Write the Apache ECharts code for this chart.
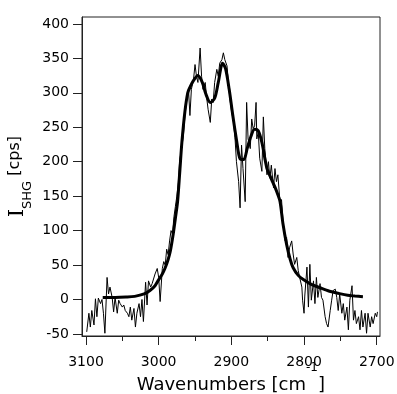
<!DOCTYPE html>
<html>
<head>
<meta charset="utf-8">
<script src="https://cdn.jsdelivr.net/npm/echarts@6/dist/echarts.min.js"></script>
<style>html,body{margin:0;padding:0;background:#fff;}#c{width:397px;height:394px;}</style>
</head>
<body>
<div id="c"></div>
<script>
// measured spectrum (noisy)
const dataWn = [3099,3096,3094,3092,3089,3087,3085,3083,3080,3078,3076,3074,3071,3069,3067,3064,3062,3060,3057,3055,3053,3050,3048,3046,3043,3041,3039,3037,3034,3032,3030,3027,3025,3023,3021,3018,3016,3014,3011,3009,3007,3005,3002,3000,2998,2995,2993,2991,2989,2987,2985,2983,2981,2979,2977,2975,2973,2971,2969,2966,2964,2962,2959,2957,2955,2952,2950,2948,2946,2943,2941,2939,2936,2934,2932,2929,2927,2925,2923,2920,2918,2916,2913,2911,2909,2906,2904,2902,2900,2897,2895,2893,2890,2888,2886,2884,2881,2879,2877,2874,2872,2870,2868,2866,2865,2863,2861,2858,2856,2854,2851,2849,2847,2845,2842,2840,2838,2836,2833,2831,2829,2826,2824,2822,2820,2817,2815,2813,2810,2808,2806,2803,2802,2800,2799,2796,2794,2792,2790,2787,2785,2783,2781,2778,2776,2774,2771,2769,2767,2764,2762,2760,2757,2755,2753,2751,2748,2746,2744,2741,2739,2737,2734,2732,2730,2728,2725,2723,2721,2719,2716,2714,2712,2709,2707,2705,2702,2700,2699];
const dataVal = [-47,-20,-40,-16,-37,1,-25,2,-6,0,-20,-49,32,8,18,3,-18,3,-20,-1,-6,-11,-8,-16,-20,-25,-11,-30,-13,-40,-20,-6,-25,0,-32,25,-8,27,18,23,25,37,45,32,-3,45,55,50,73,65,85,100,95,120,135,150,170,203,215,238,265,285,305,267,305,320,341,324,315,365,324,305,315,293,276,257,291,286,315,334,324,343,348,358,348,339,315,291,275,257,235,200,171,133,224,190,142,286,233,219,262,248,252,286,233,243,205,186,265,219,181,200,176,195,162,190,171,181,140,145,115,85,90,61,75,85,66,51,61,42,32,18,-1,-20,5,47,-11,51,-1,27,-6,32,3,23,3,-1,-25,-35,-40,-16,-1,13,15,3,-16,8,-20,-6,-30,-11,-44,-1,20,-30,-16,-35,-25,-44,-16,-40,-20,-49,-20,-40,-25,-35,-20,-25,-18];
// fit curve
const fitWn = [3077,3060,3045,3033,3020,3012,3005,3001,2995,2991,2987,2984,2980,2977,2974,2971,2968,2964,2960,2957,2952,2946,2940,2935,2929,2923,2918,2912,2908,2903,2898,2893,2888,2883,2878,2873,2868,2863,2858,2851,2845,2840,2836,2833,2829,2824,2819,2815,2808,2801,2790,2778,2765,2755,2740,2730,2719];
const fitVal = [3,3,3.5,4.5,8,13,20,27,37,46,58,70,95,118,142,185,229,272,300,308,318,325,315,298,286,292,315,343,335,305,267,232,204,203,220,237,247,245,228,190,175,163,152,142,110,80,58,46,35,29,22,17,12,9.5,6,5,4];
// tick labels
const xMajor = [2700,2800,2900,3000,3100];
const xMinor = [2750,2850,2950,3050];
const yTicks = [-50,0,50,100,150,200,250,300,350,400];

const font = 'DejaVu Sans';
const plain = v => String(v);
const chart = echarts.init(document.getElementById('c'), null, {renderer:'canvas'});
const xCommon = {type:'value', inverse:true, min:2695.5, max:3105.5, position:'bottom', splitLine:{show:false}, nameMoveOverlap:false};
chart.setOption({
  animation:false,
  backgroundColor:'#fff',
  grid:{left:82, right:17, top:17, bottom:58, show:true, borderColor:'#222', borderWidth:1, containLabel:false, outerBoundsMode:'none'},
  xAxis:[
    Object.assign({}, xCommon, {
      axisLine:{show:true, onZero:false, lineStyle:{color:'#222', width:1}},
      axisTick:{show:true, inside:false, length:9, customValues:xMajor, lineStyle:{color:'#222'}},
      axisLabel:{show:true, customValues:xMajor, formatter:plain, margin:19, fontSize:14, fontFamily:font, color:'#000', hideOverlap:false},
      name:'{a|Wavenumbers [cm}{s|-1}{a|]}{sp| }',
      nameLocation:'middle', nameGap:26,
      nameTextStyle:{rich:{
        a:{fontSize:18, fontFamily:font, color:'#000', lineHeight:20, verticalAlign:'bottom'},
        s:{fontSize:12, fontFamily:font, color:'#000', lineHeight:12, verticalAlign:'top'},
        sp:{fontSize:1, lineHeight:32}
      }}
    }),
    Object.assign({}, xCommon, {
      axisLine:{show:false, onZero:false},
      axisTick:{show:true, inside:false, length:5, customValues:xMinor, lineStyle:{color:'#222'}},
      axisLabel:{show:false}
    })
  ],
  yAxis:{
    type:'value', min:-53, max:410, splitLine:{show:false}, nameMoveOverlap:false,
    axisLine:{show:true, onZero:false, lineStyle:{color:'#222', width:1}},
    axisTick:{show:true, inside:false, length:9, customValues:yTicks, lineStyle:{color:'#222'}},
    axisLabel:{show:true, customValues:yTicks, formatter:plain, margin:13, fontSize:14, fontFamily:font, color:'#000'},
    name:'{i|I}{s|SHG}{a| [cps]}{sp| }',
    nameLocation:'middle', nameGap:48,
    nameTextStyle:{rich:{
      i:{fontSize:21, fontFamily:'DejaVu Serif', color:'#000', lineHeight:20, verticalAlign:'top'},
      a:{fontSize:16, fontFamily:font, color:'#000', lineHeight:20, verticalAlign:'top'},
      s:{fontSize:13, fontFamily:font, color:'#000', lineHeight:14, verticalAlign:'bottom'},
      sp:{fontSize:1, lineHeight:27}
    }}
  },
  series:[
    {type:'line', xAxisIndex:0, data:dataWn.map((w,i)=>[w,dataVal[i]]), showSymbol:false, symbol:'none', lineStyle:{color:'#000', width:1}, z:2},
    {type:'line', xAxisIndex:0, data:fitWn.map((w,i)=>[w,fitVal[i]]), showSymbol:false, symbol:'none', smooth:0.3, lineStyle:{color:'#000', width:3}, z:3}
  ]
});
</script>
</body>
</html>
